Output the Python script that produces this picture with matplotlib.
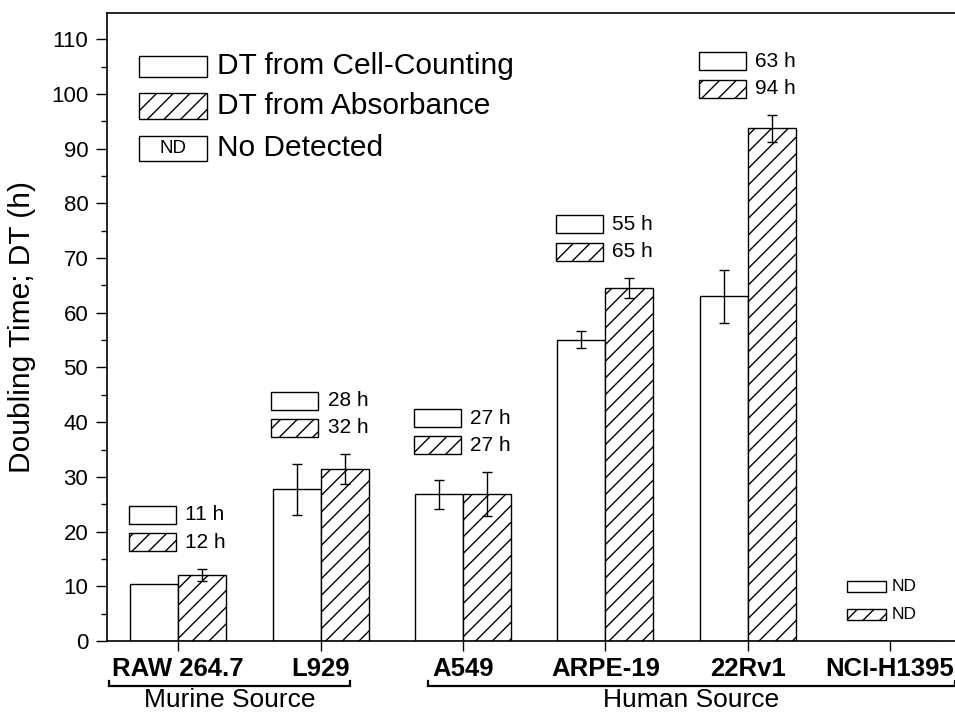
import numpy as np
import matplotlib
matplotlib.use("Agg")
import matplotlib.pyplot as plt
from matplotlib.patches import Rectangle
import matplotlib.transforms as mtransforms

plt.rcParams['font.family'] = ['Liberation Sans', 'DejaVu Sans']
plt.rcParams['hatch.linewidth'] = 1.0

# ---- data ----
cells = ['RAW 264.7', 'L929', 'A549', 'ARPE-19', '22Rv1', 'NCI-H1395']
dt_counting = [10.5, 27.7, 26.8, 55.1, 63.0, np.nan]
dt_counting_err = [0.0, 4.6, 2.7, 1.6, 4.9, np.nan]
dt_absorb = [12.1, 31.4, 26.9, 64.5, 93.7, np.nan]
dt_absorb_err = [1.1, 2.7, 4.0, 1.8, 2.4, np.nan]
label_counting = ['11 h', '28 h', '27 h', '55 h', '63 h', 'ND']
label_absorb = ['12 h', '32 h', '27 h', '65 h', '94 h', 'ND']
groups = ['Murine Source', 'Human Source']
group_span = [(-0.484, 1.207), (1.754, 5.456)]
yticks = list(range(0, 111, 10))
legend_labels = ['DT from Cell-Counting', 'DT from Absorbance', 'No Detected']

HATCH = '//'

fig = plt.figure(figsize=(9.55, 7.12), dpi=100)
ax = fig.add_axes([107/955, 1-641/712, 848/955, 628/712])

x = np.arange(len(cells))
w = 0.337
lw = 1.0
c = np.array(dt_counting, dtype=float)
a = np.array(dt_absorb, dtype=float)
ce = np.array(dt_counting_err, dtype=float)
ae = np.array(dt_absorb_err, dtype=float)

ax.bar(x - w/2, np.nan_to_num(c), w, color='white', edgecolor='black', linewidth=lw, zorder=2)
ax.bar(x + w/2, np.nan_to_num(a), w, color='white', edgecolor='black', linewidth=lw, hatch=HATCH, zorder=2)
mc = ce > 0
ax.errorbar((x - w/2)[mc], c[mc], yerr=ce[mc], fmt='none', ecolor='black', elinewidth=1.0,
            capsize=3.6, capthick=1.0, zorder=3)
ma = ae > 0
ax.errorbar((x + w/2)[ma], a[ma], yerr=ae[ma], fmt='none', ecolor='black', elinewidth=1.0,
            capsize=3.6, capthick=1.0, zorder=3)

# annotation boxes
for i in range(len(cells)):
    if np.isnan(c[i]):
        b2 = 3.9; h = 1.9; bw = 0.274; left = i - 0.305; gap = 5.1; fs = 12.5; tx = i + 0.01
    else:
        top = max(c[i] + ce[i], a[i] + ae[i])
        b2 = top + 3.2; h = 3.3; bw = 0.33; left = i - 0.345; gap = 5.0; fs = 15; tx = i + 0.05
    b1 = b2 + gap
    ax.add_patch(Rectangle((left, b1), bw, h, facecolor='white', edgecolor='black', linewidth=1.0, zorder=4))
    ax.add_patch(Rectangle((left, b2), bw, h, facecolor='white', edgecolor='black', linewidth=1.0,
                           hatch=HATCH, zorder=4))
    ax.text(tx, b1 + h/2, label_counting[i], fontsize=fs, va='center', ha='left', zorder=5)
    ax.text(tx, b2 + h/2, label_absorb[i], fontsize=fs, va='center', ha='left', zorder=5)

# legend (manual)
lx0, lx1 = 0.0377, 0.118
rows = [(0.8986, 0.9315), (0.8312, 0.8721), (0.7648, 0.8046)]
hatches = [None, HATCH, None]
for k, (y0, y1) in enumerate(rows):
    ax.add_patch(Rectangle((lx0, y0), lx1 - lx0, y1 - y0, transform=ax.transAxes,
                           facecolor='white', edgecolor='black', linewidth=1.0,
                           hatch=hatches[k], zorder=4))
    ax.text(0.1297, (y0 + y1)/2, legend_labels[k], transform=ax.transAxes,
            fontsize=21.5, va='center', ha='left', zorder=5)
ax.text((lx0 + lx1)/2, (rows[2][0] + rows[2][1])/2, 'ND', transform=ax.transAxes,
        fontsize=13.5, va='center', ha='center', zorder=5)

ax.set_xlim(-0.5, 5.456)
ax.set_ylim(0, 114.8)
ax.set_yticks(yticks)
ax.set_yticks(np.arange(5, 115, 10), minor=True)
ax.set_xticks(x)
ax.set_xticklabels(cells, fontsize=18.5, fontweight='bold')
ax.tick_params(axis='y', which='major', direction='out', length=8, width=1.0, labelsize=16, pad=5.5)
ax.tick_params(axis='y', which='minor', direction='out', length=4, width=1.0)
ax.tick_params(axis='x', which='major', direction='out', length=7, width=1.0, pad=4.5)
ax.set_ylabel('Doubling Time; DT (h)', fontsize=21.5)
ax.yaxis.set_label_coords(-0.084, 0.5)
ax.spines['right'].set_visible(False)
for s in ['left', 'bottom', 'top']:
    ax.spines[s].set_linewidth(1.2)

# group brackets
trans = mtransforms.blended_transform_factory(ax.transData, ax.transAxes)
by, bt = -0.0712, -0.063
for g, (s0, s1) in zip(groups, group_span):
    ax.plot([s0, s0, s1, s1], [bt, by, by, bt], transform=trans, color='black', lw=1.6,
            clip_on=False, solid_joinstyle='miter')
    ax.text((s0 + s1)/2, -0.094, g, transform=trans, fontsize=19, ha='center', va='center')

fig.savefig('out.png', dpi=100)
